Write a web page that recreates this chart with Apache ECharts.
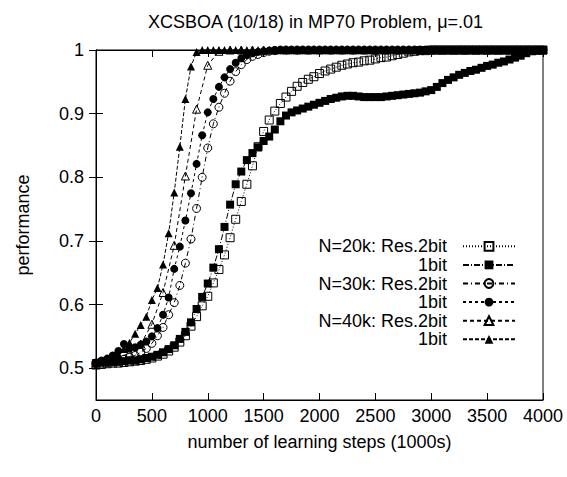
<!DOCTYPE html>
<html>
<head>
<meta charset="utf-8">
<script src="https://cdn.jsdelivr.net/npm/echarts@6/dist/echarts.min.js"></script>
<style>
  html, body { margin: 0; padding: 0; background: #fff; }
  #chart { width: 567px; height: 477px; }
</style>
</head>
<body>
<div id="chart"></div>
<script>
// learning steps (1000s), sampled every 50 / every 100
const steps = [
  0, 50, 100, 150, 200, 250, 300, 350, 400, 450, 500, 550, 600, 650, 700, 750, 800, 850, 900, 950,
  1000, 1050, 1100, 1150, 1200, 1250, 1300, 1350, 1400, 1450, 1500, 1550, 1600, 1650, 1700, 1750, 1800, 1850, 1900, 1950,
  2000, 2050, 2100, 2150, 2200, 2250, 2300, 2350, 2400, 2450, 2500, 2550, 2600, 2650, 2700, 2750, 2800, 2850, 2900, 2950,
  3000, 3050, 3100, 3150, 3200, 3250, 3300, 3350, 3400, 3450, 3500, 3550, 3600, 3650, 3700, 3750, 3800, 3850, 3900, 3950,
  4000
];
const steps100 = [
  0, 100, 200, 300, 400, 500, 600, 700, 800, 900, 1000, 1100, 1200, 1300, 1400, 1500, 1600, 1700, 1800, 1900,
  2000, 2100, 2200, 2300, 2400, 2500, 2600, 2700, 2800, 2900, 3000, 3100, 3200, 3300, 3400, 3500, 3600, 3700, 3800, 3900,
  4000
];

const n20kRes = [
  0.505, 0.506, 0.507, 0.508, 0.508, 0.509, 0.510, 0.511, 0.512, 0.514, 0.516, 0.519, 0.522, 0.527, 0.533, 0.541, 0.551, 0.566, 0.581, 0.598,
  0.613, 0.634, 0.655, 0.678, 0.705, 0.734, 0.762, 0.789, 0.818, 0.848, 0.872, 0.890, 0.904, 0.916, 0.926, 0.935, 0.943, 0.949, 0.954, 0.958,
  0.963, 0.967, 0.970, 0.973, 0.976, 0.978, 0.980, 0.981, 0.983, 0.984, 0.986, 0.988, 0.989, 0.991, 0.993, 0.995, 0.997, 0.998, 0.999, 0.999,
  1, 1, 1, 1, 1, 1, 1, 1, 1, 1, 1, 1, 1, 1, 1, 1, 1, 1, 1, 1,
  1
];
const n20k1bit = [
  0.508, 0.509, 0.509, 0.510, 0.510, 0.511, 0.512, 0.512, 0.514, 0.516, 0.518, 0.521, 0.525, 0.530, 0.536, 0.546, 0.557, 0.572, 0.593, 0.612,
  0.633, 0.658, 0.687, 0.722, 0.757, 0.789, 0.809, 0.827, 0.838, 0.847, 0.857, 0.864, 0.875, 0.888, 0.897, 0.902, 0.905, 0.908, 0.911, 0.914,
  0.917, 0.920, 0.923, 0.925, 0.927, 0.928, 0.928, 0.927, 0.926, 0.926, 0.926, 0.926, 0.927, 0.928, 0.929, 0.930, 0.931, 0.932, 0.933, 0.935,
  0.937, 0.942, 0.948, 0.953, 0.957, 0.961, 0.964, 0.967, 0.969, 0.972, 0.975, 0.977, 0.980, 0.982, 0.985, 0.988, 0.991, 0.995, 0.998, 0.999,
  1
];
const n30kRes = [
  0.507, 0.508, 0.509, 0.510, 0.512, 0.514, 0.517, 0.520, 0.525, 0.531, 0.539, 0.551, 0.564, 0.584, 0.603, 0.630, 0.665, 0.703, 0.751, 0.800,
  0.846, 0.884, 0.910, 0.932, 0.951, 0.966, 0.977, 0.985, 0.990, 0.993, 0.996, 0.998, 0.999, 1, 1, 1, 1, 1, 1, 1,
  1, 1, 1, 1, 1, 1, 1, 1, 1, 1, 1, 1, 1, 1, 1, 1, 1, 1, 1, 1,
  1, 1, 1, 1, 1, 1, 1, 1, 1, 1, 1, 1, 1, 1, 1, 1, 1, 1, 1, 1,
  1
];
const n30k1bit = [
  0.509, 0.512, 0.515, 0.520, 0.527, 0.538, 0.531, 0.533, 0.537, 0.542, 0.550, 0.563, 0.584, 0.611, 0.656, 0.691, 0.732, 0.775, 0.821, 0.866,
  0.902, 0.923, 0.942, 0.957, 0.970, 0.980, 0.987, 0.992, 0.995, 0.997, 0.998, 0.999, 1, 1, 1, 1, 1, 1, 1, 1,
  1, 1, 1, 1, 1, 1, 1, 1, 1, 1, 1, 1, 1, 1, 1, 1, 1, 1, 1, 1,
  1, 1, 1, 1, 1, 1, 1, 1, 1, 1, 1, 1, 1, 1, 1, 1, 1, 1, 1, 1,
  1
];
// this one was logged every 100 steps
const n40kRes = [
  0.508, 0.511, 0.516, 0.524, 0.538, 0.569, 0.619, 0.693, 0.802, 0.907, 0.976, 0.998, 1, 1, 1, 1, 1, 1, 1, 1,
  1, 1, 1, 1, 1, 1, 1, 1, 1, 1, 1, 1, 1, 1, 1, 1, 1, 1, 1, 1,
  1
];
const n40k1bit = [
  0.508, 0.510, 0.513, 0.517, 0.522, 0.530, 0.540, 0.554, 0.568, 0.581, 0.607, 0.626, 0.663, 0.712, 0.776, 0.848, 0.923, 0.974, 0.997, 1,
  1, 1, 1, 1, 1, 1, 1, 1, 1, 1, 1, 1, 1, 1, 1, 1, 1, 1, 1, 1,
  1, 1, 1, 1, 1, 1, 1, 1, 1, 1, 1, 1, 1, 1, 1, 1, 1, 1, 1, 1,
  1, 1, 1, 1, 1, 1, 1, 1, 1, 1, 1, 1, 1, 1, 1, 1, 1, 1, 1, 1,
  1
];

const seriesNames = ['N=20k: Res.2bit', 'N=20k: 1bit', 'N=30k: Res.2bit', 'N=30k: 1bit', 'N=40k: Res.2bit', 'N=40k: 1bit'];
const legendLabels = ['N=20k: Res.2bit', '1bit', 'N=30k: Res.2bit', '1bit', 'N=40k: Res.2bit', '1bit'];
const xTicks = [0, 500, 1000, 1500, 2000, 2500, 3000, 3500, 4000];
const yTicks = [0.5, 0.6, 0.7, 0.8, 0.9, 1];

const FONT = 'Liberation Sans, Arial, Helvetica, sans-serif';
const hollow = { color: 'rgba(0,0,0,0)', borderColor: '#000', borderWidth: 1 };
const solid = { color: '#000', borderColor: '#000', borderWidth: 0 };

function makeSeries(idx, xs, ys, symbol, filled, dash) {
  return {
    name: seriesNames[idx],
    type: 'line',
    data: xs.map((x, i) => [x, ys[i]]),
    symbol: symbol,
    symbolSize: 8,
    showAllSymbol: true,
    clip: false,
    animation: false,
    itemStyle: filled ? solid : hollow,
    lineStyle: { color: '#000', width: 1, type: dash }
  };
}

const chart = echarts.init(document.getElementById('chart'), null, { renderer: 'svg' });

const option = {
  backgroundColor: '#fff',
  animation: false,
  title: {
    text: 'XCSBOA (10/18) in MP70 Problem, \u03bc=.01',
    left: 143,
    top: 8,
    textStyle: { fontFamily: FONT, fontSize: 18, fontWeight: 'normal', color: '#000' }
  },
  grid: {
    left: 96, right: 24, top: 50, bottom: 77,
    show: true, borderColor: '#000', borderWidth: 1, backgroundColor: 'transparent'
  },
  legend: {
    orient: 'vertical',
    left: 308,
    top: 232,
    align: 'right',
    itemWidth: 52,
    itemHeight: 11,
    itemGap: 0,
    selectedMode: false,
    data: seriesNames,
    formatter: name => legendLabels[seriesNames.indexOf(name)],
    textStyle: {
      fontFamily: FONT, fontSize: 18, color: '#000',
      width: 134, align: 'right', lineHeight: 18.6, padding: [0, 11, 0, 0]
    }
  },
  xAxis: [{
    type: 'value',
    min: 0, max: 4000, interval: 500,
    name: 'number of learning steps (1000s)',
    nameLocation: 'middle',
    nameGap: 33,
    nameTextStyle: { fontFamily: FONT, fontSize: 18, color: '#000' },
    axisLine: { show: true, lineStyle: { color: '#000', width: 1 } },
    axisTick: { show: true, inside: true, length: 7, lineStyle: { color: '#000' }, customValues: xTicks },
    axisLabel: {
      fontFamily: FONT, fontSize: 18, color: '#000', margin: 7, customValues: xTicks,
      formatter: v => String(v)
    },
    splitLine: { show: false }
  }, {
    type: 'value',
    position: 'top',
    min: 0, max: 4000, interval: 500,
    axisLine: { show: true, lineStyle: { color: '#000', width: 1 } },
    axisTick: { show: true, inside: true, length: 7, lineStyle: { color: '#000' } },
    axisLabel: { show: false },
    splitLine: { show: false }
  }],
  yAxis: [{
    type: 'value',
    min: 0.45, max: 1, interval: 0.05,
    name: 'performance',
    nameLocation: 'middle',
    nameGap: 64,
    nameTextStyle: { fontFamily: FONT, fontSize: 18, color: '#000' },
    axisLine: { show: true, lineStyle: { color: '#000', width: 1 } },
    axisTick: { show: true, inside: true, length: 7, lineStyle: { color: '#000' }, customValues: yTicks },
    axisLabel: { fontFamily: FONT, fontSize: 18, color: '#000', margin: 12, customValues: yTicks },
    splitLine: { show: false }
  }, {
    type: 'value',
    position: 'right',
    min: 0.45, max: 1, interval: 0.05,
    axisLine: { show: true, lineStyle: { color: '#000', width: 1 } },
    axisTick: { show: true, inside: true, length: 7, lineStyle: { color: '#000' }, customValues: yTicks },
    axisLabel: { show: false },
    splitLine: { show: false }
  }],
  series: [
    makeSeries(0, steps, n20kRes, 'rect', false, [1, 2]),
    makeSeries(1, steps, n20k1bit, 'rect', true, [6, 2, 1, 2]),
    makeSeries(2, steps, n30kRes, 'circle', false, [5, 3, 1, 3]),
    makeSeries(3, steps, n30k1bit, 'circle', true, [3, 3]),
    makeSeries(4, steps100, n40kRes, 'triangle', false, [4, 3]),
    makeSeries(5, steps, n40k1bit, 'triangle', true, [4, 2])
  ]
};

chart.setOption(option);
</script>
</body>
</html>
